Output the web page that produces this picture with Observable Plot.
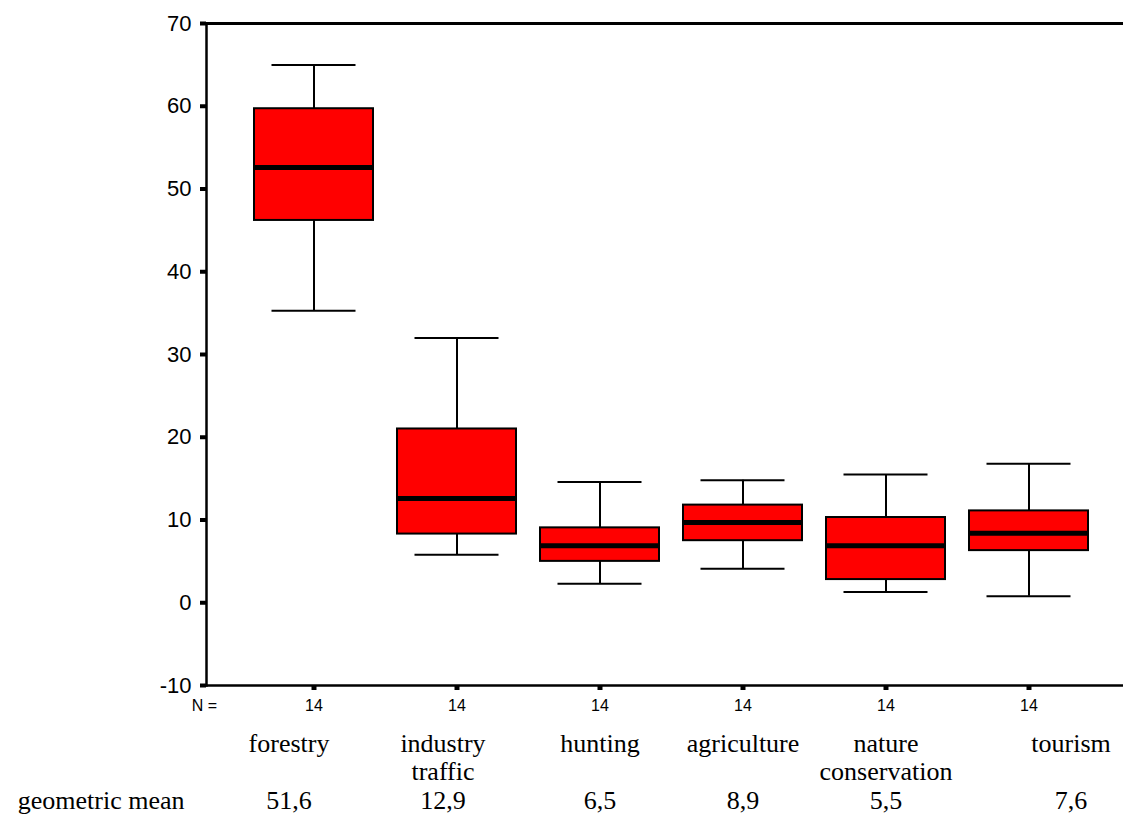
<!DOCTYPE html>
<html>
<head>
<meta charset="utf-8">
<script src="https://cdn.jsdelivr.net/npm/d3@7"></script>
<script src="https://cdn.jsdelivr.net/npm/@observablehq/plot@0.6"></script>
<style>
  html, body { margin: 0; padding: 0; background: #ffffff; overflow: hidden; }
  #chart svg { display: block; }
</style>
</head>
<body>
<div id="chart"></div>
<script>
// ---- data ----
const categories = ["forestry", "industry traffic", "hunting", "agriculture", "nature conservation", "tourism"];
const categoryLabels = ["forestry", "industry\ntraffic", "hunting", "agriculture", "nature\nconservation", "tourism"];
const whiskerLow  = [35.3, 5.8, 2.3, 4.1, 1.3, 0.8];
const quartile1   = [46.2, 8.3, 5.0, 7.5, 2.8, 6.3];
const medians     = [52.6, 12.6, 6.9, 9.7, 6.9, 8.4];
const quartile3   = [59.7, 21.0, 9.05, 11.8, 10.3, 11.1];
const whiskerHigh = [65.0, 32.0, 14.6, 14.8, 15.5, 16.8];
const nValues     = [14, 14, 14, 14, 14, 14];
const geometricMean = ["51,6", "12,9", "6,5", "8,9", "5,5", "7,6"];
const yTicks = [-10, 0, 10, 20, 30, 40, 50, 60, 70];
const rowTitle = "geometric mean";
const nTitle = "N =";

// ---- layout (not data) ----
const labelShift = [-25, -14, 0, 0, 0, 42];

const rows = categories.map((c, i) => ({
  category: c,
  label: categoryLabels[i],
  lo: whiskerLow[i], q1: quartile1[i], med: medians[i], q3: quartile3[i], hi: whiskerHigh[i],
  n: nValues[i], gm: geometricMean[i]
}));

const serif = "'Liberation Serif', 'Times New Roman', serif";
const sans = "'Liberation Sans', Arial, sans-serif";
const tableSize = 26;

const labelMarks = rows.flatMap((r, i) => [
  Plot.text([r], {x: "category", text: "label", frameAnchor: "bottom", textAnchor: "middle", lineAnchor: "top",
    dy: 46, dx: labelShift[i], fontSize: tableSize, lineHeight: 1.1, fontFamily: serif, fill: "black"}),
  Plot.text([r], {x: "category", text: "gm", frameAnchor: "bottom", textAnchor: "middle", lineAnchor: "top",
    dy: 105, dx: labelShift[i], fontSize: tableSize, fontFamily: serif, fill: "black"})
]);

const chart = Plot.plot({
  width: 1123,
  height: 816,
  marginLeft: 206,
  marginRight: 0,
  marginTop: 23,
  marginBottom: 131,
  style: {background: "white", color: "black", overflow: "visible"},
  x: {type: "band", domain: categories, paddingInner: 0.17, paddingOuter: 0.284, align: 0.571, label: null},
  y: {domain: [-10, 70], label: null},
  marks: [
    Plot.frame({anchor: "left", strokeWidth: 2.5}),
    Plot.frame({anchor: "top", strokeWidth: 3}),
    Plot.frame({anchor: "bottom", strokeWidth: 2.5}),
    Plot.axisY({ticks: yTicks, tickSize: 6, tickPadding: 9, strokeWidth: 4, fontSize: 22,
      fontFamily: sans, tickFormat: d => String(d), label: null}),
    Plot.axisX({tickSize: 5, tickPadding: 9, strokeWidth: 5, fontSize: 16, fontFamily: sans,
      tickFormat: d => String(nValues[categories.indexOf(d)]), label: null}),
    Plot.ruleX(rows, {x: "category", y1: "lo", y2: "hi", stroke: "black", strokeWidth: 2}),
    Plot.tickY(rows, {x: "category", y: "lo", insetLeft: 17.5, insetRight: 17.5, stroke: "black", strokeWidth: 2}),
    Plot.tickY(rows, {x: "category", y: "hi", insetLeft: 17.5, insetRight: 17.5, stroke: "black", strokeWidth: 2}),
    Plot.barY(rows, {x: "category", y1: "q1", y2: "q3", fill: "#ff0000", stroke: "black", strokeWidth: 2}),
    Plot.tickY(rows, {x: "category", y: "med", stroke: "black", strokeWidth: 5}),
    Plot.text([nTitle], {text: d => d, frameAnchor: "bottom-left", textAnchor: "middle", lineAnchor: "top",
      dy: 14, dx: -2, fontSize: 16, fontFamily: sans, fill: "black"}),
    Plot.text([rowTitle], {text: d => d, frameAnchor: "bottom-left", textAnchor: "end", lineAnchor: "top",
      dy: 105, dx: -22, fontSize: tableSize, fontFamily: serif, fill: "black"}),
    ...labelMarks
  ]
});
document.getElementById("chart").appendChild(chart);
</script>
</body>
</html>
